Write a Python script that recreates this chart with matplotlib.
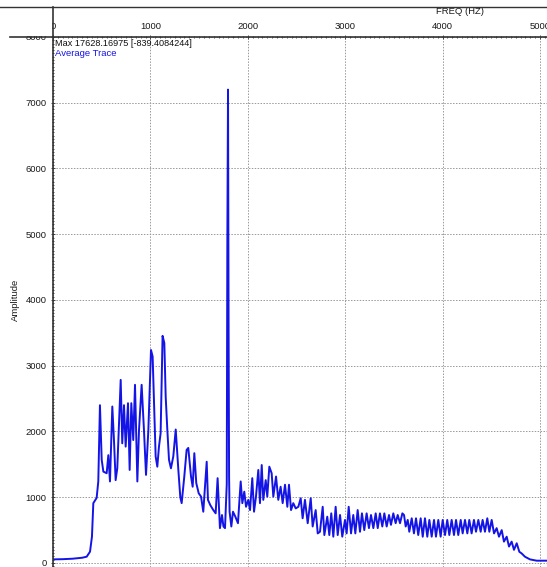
import matplotlib
matplotlib.use("Agg")
import matplotlib.pyplot as plt
from matplotlib.lines import Line2D
from matplotlib.patches import Rectangle
from matplotlib.ticker import MultipleLocator

plt.rcParams['font.family'] = ['Liberation Sans', 'DejaVu Sans']

# ---- data ----
freq = [0, 100, 200, 300, 346, 380, 400, 414, 448, 465, 482, 500, 517, 551, 568, 585,
        609, 626, 643, 660, 695, 711, 729, 746, 770, 787, 804, 824, 842, 866, 883, 910,
        934, 955, 979, 1006, 1023, 1037, 1054, 1071, 1088, 1105, 1125, 1143, 1157, 1174,
        1191, 1211, 1235, 1260, 1287, 1307, 1321, 1348, 1372, 1389, 1417, 1434, 1451,
        1471, 1496, 1520, 1543, 1578, 1591, 1615, 1646, 1670, 1690, 1714, 1735, 1750,
        1766, 1784, 1790, 1797, 1803, 1808, 1813, 1831, 1848, 1872, 1899, 1927, 1944,
        1964, 1982, 2005, 2023, 2046, 2064, 2084, 2108, 2125, 2143, 2159, 2184, 2200,
        2221, 2245, 2262, 2290, 2313, 2337, 2358, 2382, 2406, 2423, 2444, 2467, 2492,
        2519, 2543, 2563, 2587, 2615, 2646, 2666, 2697, 2718, 2741, 2769, 2786, 2816,
        2837, 2857, 2878, 2902, 2923, 2947, 2970, 2998, 3015, 3036, 3060, 3083, 3104,
        3128, 3152, 3172, 3196, 3220, 3244, 3265, 3289, 3313, 3334, 3357, 3381, 3402,
        3426, 3450, 3470, 3494, 3518, 3539, 3563, 3587, 3604, 3621, 3642, 3658, 3683,
        3706, 3727, 3750, 3775, 3796, 3819, 3843, 3864, 3888, 3912, 3932, 3956, 3980,
        4001, 4025, 4048, 4069, 4093, 4117, 4138, 4161, 4186, 4206, 4230, 4254, 4274,
        4298, 4322, 4343, 4367, 4391, 4411, 4435, 4459, 4480, 4504, 4528, 4555, 4579,
        4607, 4630, 4658, 4682, 4709, 4733, 4761, 4788, 4812, 4846, 4897, 4966, 5069]

amp = [55, 58, 65, 80, 96, 172, 400, 910, 990, 1240, 2400, 1570, 1390, 1365, 1640, 1240,
       2380, 1870, 1260, 1440, 2785, 1820, 2400, 1770, 2430, 1415, 2430, 1870, 2710, 1240,
       2020, 2710, 2020, 1340, 2020, 3240, 3140, 2430, 1620, 1465, 1770, 1975, 3455, 3345,
       2530, 2020, 1570, 1440, 1620, 2030, 1415, 1000, 910, 1315, 1720, 1750, 1315, 1160,
       1670, 1215, 1060, 1010, 780, 1540, 960, 880, 805, 755, 1290, 530, 730, 555, 530,
       1200, 4900, 7200, 3500, 1300, 780, 555, 780, 705, 605, 1240, 910, 1085, 855, 960,
       805, 1290, 780, 1010, 1415, 910, 1490, 960, 1260, 1010, 1465, 1365, 1010, 1315,
       960, 1160, 910, 1190, 855, 1190, 805, 910, 830, 855, 985, 680, 960, 605, 985, 555,
       805, 450, 475, 855, 425, 705, 425, 755, 400, 855, 425, 730, 400, 655, 450, 855,
       450, 730, 450, 805, 475, 755, 500, 755, 530, 730, 530, 755, 530, 755, 555, 755,
       555, 730, 580, 755, 605, 730, 605, 755, 730, 555, 655, 475, 680, 450, 680, 425,
       680, 400, 680, 400, 655, 400, 655, 400, 655, 400, 655, 425, 655, 425, 655, 425,
       655, 425, 655, 450, 655, 450, 655, 450, 655, 475, 655, 475, 655, 475, 680, 475,
       655, 450, 530, 400, 500, 325, 400, 250, 325, 200, 300, 170, 145, 95, 55, 35, 35]

x_ticks = [0, 1000, 2000, 3000, 4000, 5000]
x_tick_labels = ['0', '1000', '2000', '3000', '4000', '5000']
y_ticks = [0, 1000, 2000, 3000, 4000, 5000, 6000, 7000, 8000]
y_tick_labels = ['0', '1000', '2000', '3000', '4000', '5000', '6000', '7000', '8000']

W, H = 547, 567
fig = plt.figure(figsize=(W / 100, H / 100), dpi=100)
ax = fig.add_axes([53 / W, 0, (W - 53) / W, (H - 37) / H])

ax.plot(freq, amp, color='#1414e6', lw=1.4)
ax.set_xlim(0, 5072)
ax.set_ylim(-61, 8000)

ax.xaxis.tick_top()
ax.set_xticks(x_ticks)
ax.set_xticklabels(x_tick_labels)
ax.set_yticks(y_ticks)
ax.set_yticklabels(y_tick_labels)
ax.xaxis.set_minor_locator(MultipleLocator(50))
ax.yaxis.set_minor_locator(MultipleLocator(50))
ax.tick_params(which='both', direction='inout', colors='#333333', width=0.6,
               labelsize=6.8, labelcolor='#1a1a1a')
ax.tick_params(which='major', length=3)
ax.tick_params(which='minor', length=2)
ax.tick_params(axis='x', pad=3)
ax.tick_params(axis='y', pad=3)

ax.grid(True, which='major', color='#999999', lw=0.7, ls=(0, (1.5, 1.5)))
ax.set_axisbelow(True)

for s in ['bottom', 'right']:
    ax.spines[s].set_visible(False)
for s in ['top', 'left']:
    ax.spines[s].set_color('#333333')
    ax.spines[s].set_linewidth(1.2)

ax.set_ylabel('Amplitude', fontsize=6.8, color='#1a1a1a')
ax.yaxis.set_label_coords(-0.066, 0.504)

fig.text(460 / W, 1 - 12 / H, 'FREQ (HZ)', fontsize=6.8, color='#1a1a1a',
         ha='center', va='center')
fig.text(55 / W, 1 - 43 / H, 'Max 17628.16975 [-839.4084244]', fontsize=6.6,
         color='#111111', ha='left', va='center')
fig.text(55 / W, 1 - 54 / H, 'Average Trace', fontsize=6.8, color='#1414e6',
         ha='left', va='center')

# hide upper half of the top y label, as in the reference
fig.add_artist(Rectangle((0, 1 - 36.3 / H), 52 / W, 28 / H, transform=fig.transFigure,
                         facecolor='white', edgecolor='none', zorder=5))
# outer frame lines
fig.add_artist(Line2D([0, 1], [1 - 7 / H, 1 - 7 / H], transform=fig.transFigure,
                      color='#333333', lw=1.0, zorder=6))
fig.add_artist(Line2D([53 / W, 53 / W], [1 - 7 / H, 1 - 37 / H], transform=fig.transFigure,
                      color='#333333', lw=1.2, zorder=6))
fig.add_artist(Line2D([10 / W, 53 / W], [1 - 37 / H, 1 - 37 / H], transform=fig.transFigure,
                      color='#333333', lw=1.2, zorder=6))

fig.savefig('out.png', dpi=100)
